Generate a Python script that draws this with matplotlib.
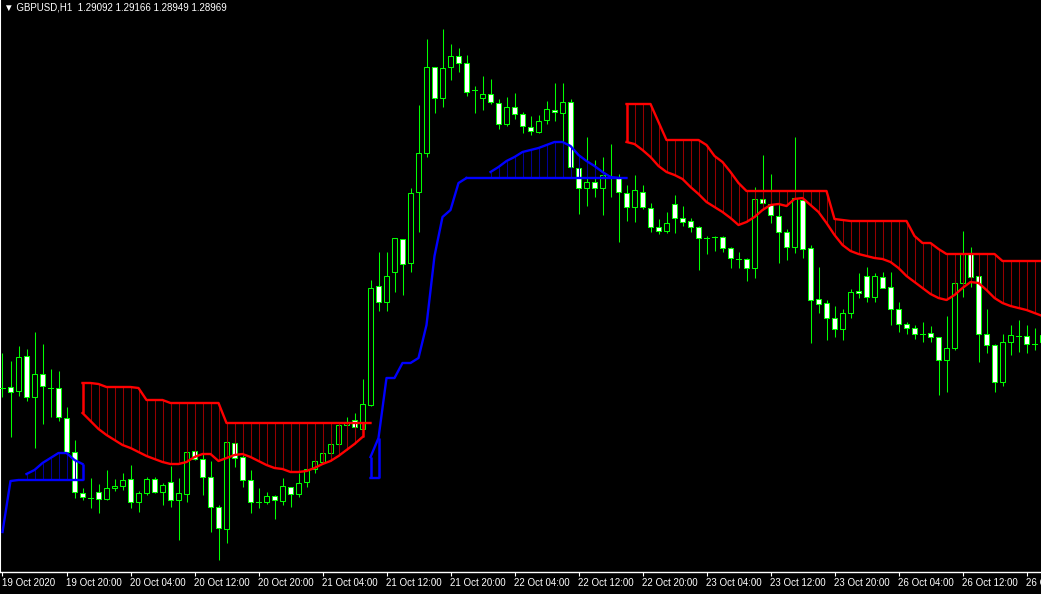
import numpy as np
import matplotlib.pyplot as plt
from matplotlib.patches import Rectangle

plt.rcParams['font.family'] = ['Liberation Sans', 'DejaVu Sans']

title = "\u25bc GBPUSD,H1  1.29092 1.29166 1.28949 1.28969"

# hourly bars, GBPUSD H1, 19 Oct 2020 12:00 onwards
opens = [1.2812, 1.2813, 1.2809, 1.2844, 1.2803, 1.2826, 1.2812, 1.2812, 1.2782, 1.2748,
         1.2707, 1.2702, 1.2708, 1.2701, 1.2712, 1.2714, 1.2721, 1.2698, 1.2707, 1.2721,
         1.2708, 1.2718, 1.2700, 1.2706, 1.2749, 1.2741, 1.2723, 1.2693, 1.2671, 1.2757,
         1.2743, 1.2720, 1.2698, 1.2698, 1.2704, 1.2699, 1.2713, 1.2706, 1.2718, 1.2731,
         1.2738, 1.2747, 1.2756, 1.2775, 1.2780, 1.2771, 1.2795, 1.2914, 1.2898, 1.2928,
         1.2961, 1.2937, 1.3008, 1.3047, 1.3133, 1.3102, 1.3133, 1.3144, 1.3137, 1.3110,
         1.3102, 1.3106, 1.3097, 1.3076, 1.3093, 1.3086, 1.3073, 1.3068, 1.3080, 1.3090,
         1.3087, 1.3098, 1.3032, 1.3012, 1.3018, 1.3012, 1.3023, 1.3023, 1.3007, 1.2993,
         1.3008, 1.2992, 1.2973, 1.2969, 1.2996, 1.2982, 1.2979, 1.2973, 1.2962, 1.2963,
         1.2963, 1.2952, 1.2941, 1.2941, 1.2932, 1.3001, 1.2996, 1.2984, 1.2968, 1.2953,
         1.3000, 1.2952, 1.2901, 1.2897, 1.2882, 1.2871, 1.2887, 1.2909, 1.2924, 1.2903,
         1.2923, 1.2913, 1.2891, 1.2876, 1.2872, 1.2866, 1.2867, 1.2863, 1.2840, 1.2852,
         1.2917, 1.2947, 1.2924, 1.2866, 1.2855, 1.2818, 1.2858, 1.2864, 1.2864, 1.2856,
         1.2858]
highs = [1.2847, 1.2839, 1.2854, 1.2851, 1.2868, 1.2856, 1.2831, 1.2829, 1.2793, 1.2760,
         1.2712, 1.2722, 1.2716, 1.2730, 1.2721, 1.2727, 1.2735, 1.2709, 1.2723, 1.2723,
         1.2717, 1.2734, 1.2722, 1.2765, 1.2778, 1.2764, 1.2739, 1.2695, 1.2765, 1.2768,
         1.2745, 1.2730, 1.2712, 1.2708, 1.2705, 1.2722, 1.2713, 1.2727, 1.2733, 1.2749,
         1.2760, 1.2766, 1.2777, 1.2783, 1.2787, 1.2821, 1.2920, 1.2948, 1.2948, 1.2962,
         1.2961, 1.3012, 1.3095, 1.3161, 1.3133, 1.3171, 1.3156, 1.3152, 1.3145, 1.3114,
         1.3124, 1.3121, 1.3101, 1.3103, 1.3107, 1.3088, 1.3084, 1.3085, 1.3099, 1.3117,
         1.3117, 1.3101, 1.3043, 1.3063, 1.3040, 1.3043, 1.3056, 1.3026, 1.3015, 1.3025,
         1.3015, 1.2997, 1.2981, 1.2988, 1.3005, 1.2994, 1.2982, 1.2974, 1.2964, 1.2964,
         1.2964, 1.2953, 1.2948, 1.2942, 1.3013, 1.3045, 1.3026, 1.3001, 1.2971, 1.3063,
         1.3004, 1.2955, 1.2933, 1.2900, 1.2894, 1.2891, 1.2911, 1.2927, 1.2933, 1.2927,
         1.2928, 1.2928, 1.2898, 1.2878, 1.2875, 1.2878, 1.2874, 1.2863, 1.2884, 1.2927,
         1.2969, 1.2953, 1.2931, 1.2891, 1.2856, 1.2866, 1.2875, 1.2880, 1.2875, 1.2872,
         1.2870]
lows = [1.2803, 1.2763, 1.2804, 1.2799, 1.2752, 1.2776, 1.2783, 1.2779, 1.2747, 1.2702,
        1.2700, 1.2692, 1.2687, 1.2700, 1.2709, 1.2710, 1.2692, 1.2688, 1.2705, 1.2707,
        1.2695, 1.2693, 1.2660, 1.2698, 1.2740, 1.2705, 1.2668, 1.2640, 1.2657, 1.2733,
        1.2713, 1.2687, 1.2692, 1.2696, 1.2681, 1.2695, 1.2693, 1.2703, 1.2713, 1.2727,
        1.2737, 1.2745, 1.2753, 1.2770, 1.2762, 1.2770, 1.2794, 1.2889, 1.2889, 1.2908,
        1.2905, 1.2928, 1.2968, 1.3043, 1.3087, 1.3093, 1.3120, 1.3128, 1.3104, 1.3087,
        1.3090, 1.3096, 1.3071, 1.3074, 1.3081, 1.3067, 1.3065, 1.3067, 1.3076, 1.3079,
        1.3053, 1.3025, 1.2986, 1.2994, 1.3003, 1.2985, 1.3003, 1.2958, 1.2979, 1.2978,
        1.2991, 1.2968, 1.2966, 1.2967, 1.2967, 1.2974, 1.2968, 1.2930, 1.2946, 1.2949,
        1.2948, 1.2932, 1.2932, 1.2919, 1.2922, 1.2995, 1.2977, 1.2937, 1.2940, 1.2947,
        1.2942, 1.2857, 1.2887, 1.2860, 1.2863, 1.2860, 1.2882, 1.2902, 1.2898, 1.2898,
        1.2912, 1.2875, 1.2868, 1.2866, 1.2861, 1.2858, 1.2858, 1.2805, 1.2808, 1.2850,
        1.2903, 1.2913, 1.2838, 1.2847, 1.2808, 1.2814, 1.2845, 1.2848, 1.2847, 1.2850,
        1.2855]
closes = [1.2812, 1.2808, 1.2843, 1.2803, 1.2826, 1.2814, 1.2812, 1.2783, 1.2748, 1.2708,
          1.2703, 1.2702, 1.2701, 1.2712, 1.2714, 1.2720, 1.2698, 1.2707, 1.2721, 1.2708,
          1.2715, 1.2700, 1.2707, 1.2748, 1.2741, 1.2723, 1.2693, 1.2672, 1.2758, 1.2742,
          1.2720, 1.2698, 1.2698, 1.2704, 1.2700, 1.2714, 1.2706, 1.2717, 1.2731, 1.2739,
          1.2747, 1.2756, 1.2775, 1.2778, 1.2773, 1.2796, 1.2912, 1.2898, 1.2924, 1.2962,
          1.2936, 1.3007, 1.3047, 1.3133, 1.3102, 1.3132, 1.3144, 1.3137, 1.3108, 1.3110,
          1.3106, 1.3098, 1.3076, 1.3093, 1.3086, 1.3074, 1.3069, 1.3079, 1.3091, 1.3088,
          1.3098, 1.3033, 1.3012, 1.3018, 1.3012, 1.3025, 1.3023, 1.3008, 1.2993, 1.3010,
          1.2993, 1.2973, 1.2969, 1.2977, 1.2982, 1.2978, 1.2973, 1.2962, 1.2962, 1.2963,
          1.2952, 1.2942, 1.2941, 1.2932, 1.3001, 1.2997, 1.2985, 1.2968, 1.2953, 1.3002,
          1.2951, 1.2900, 1.2896, 1.2882, 1.2871, 1.2887, 1.2908, 1.2907, 1.2903, 1.2924,
          1.2912, 1.2891, 1.2876, 1.2872, 1.2866, 1.2866, 1.2863, 1.2840, 1.2852, 1.2917,
          1.2947, 1.2923, 1.2866, 1.2855, 1.2818, 1.2858, 1.2865, 1.2864, 1.2856, 1.2856,
          1.2865]

# cloud lines: (first bar, values)
blue_upper = [(3, [1.2726, 1.2730, 1.2737, 1.2742, 1.2747, 1.2747, 1.2740, 1.2736]),
              (46, [1.2743, 1.2762, 1.2822, 1.2822, 1.2837, 1.2837, 1.2842, 1.2875, 1.2944,
                    1.2983, 1.2990, 1.3017, 1.3022]),
              (61, [1.3028, 1.3033, 1.3039, 1.3043, 1.3048, 1.3050, 1.3052, 1.3055, 1.3058,
                    1.3058, 1.3054, 1.3045, 1.3039, 1.3034, 1.3028, 1.3023, 1.3022])]
blue_lower = [(0, [1.2668, 1.2719] + [1.2720] * 9),
              (46, [1.2722, 1.2722]),
              (58, [1.3022] * 21)]
red_upper = [(10, [1.2817, 1.2817, 1.2816, 1.2813, 1.2813, 1.2813, 1.2813, 1.2812, 1.2800,
                   1.2800, 1.2800] + [1.2797] * 7 + [1.2777] * 19),
             (78, [1.3096] * 4 + [1.3078] + [1.3060] * 5 + [1.3055, 1.3044, 1.3038, 1.3028,
                   1.3017] + [1.3009] * 11 + [1.2981, 1.2980] + [1.2979] * 8
                  + [1.2964, 1.2957, 1.2957, 1.2951] + [1.2946] * 7 + [1.2939] * 6)]
red_lower = [(10, [1.2787, 1.2779, 1.2771, 1.2765, 1.2760, 1.2755, 1.2752, 1.2748, 1.2744,
                   1.2741, 1.2738, 1.2736, 1.2736, 1.2738, 1.2743, 1.2746, 1.2746, 1.2739,
                   1.2742, 1.2745, 1.2746, 1.2743, 1.2739, 1.2735, 1.2732, 1.2731, 1.2728,
                   1.2728, 1.2729, 1.2732, 1.2736, 1.2739, 1.2744, 1.2750, 1.2756, 1.2763]),
             (78, [1.3058, 1.3056, 1.3050, 1.3043, 1.3034, 1.3028, 1.3025, 1.3021, 1.3013,
                   1.3006, 1.2998, 1.2993, 1.2988, 1.2982, 1.2975, 1.2978, 1.2983, 1.2990,
                   1.2995, 1.2996, 1.2994, 1.3001, 1.3002, 1.2995, 1.2988, 1.2977, 1.2965,
                   1.2955, 1.2949, 1.2946, 1.2944, 1.2942, 1.2941, 1.2938, 1.2932, 1.2924,
                   1.2918, 1.2912, 1.2906, 1.2902, 1.2900, 1.2905, 1.2912, 1.2918, 1.2917,
                   1.2910, 1.2902, 1.2897, 1.2894, 1.2892, 1.2890, 1.2887, 1.2884])]

time_labels = ["19 Oct 2020", "19 Oct 20:00", "20 Oct 04:00", "20 Oct 12:00", "20 Oct 20:00",
               "21 Oct 04:00", "21 Oct 12:00", "21 Oct 20:00", "22 Oct 04:00", "22 Oct 12:00",
               "22 Oct 20:00", "23 Oct 04:00", "23 Oct 12:00", "23 Oct 20:00", "26 Oct 04:00",
               "26 Oct 12:00", "26 Oct 20:00"]

n = len(opens)
x = np.arange(n)


def span(parts):
    arr = np.full(n, np.nan)
    for start, vals in parts:
        arr[start:start + len(vals)] = vals
    return arr


fig = plt.figure(figsize=(10.41, 5.94), dpi=100, facecolor='black')
ax = fig.add_axes([0, 22 / 594, 1, 572 / 594])
ax.set_facecolor('black')

green = '#00ff00'
px = 0.75  # about one pixel, in points
ax.vlines(x, lows, highs, color=green, lw=px, zorder=2, snap=True)
for i in range(n):
    o, c = opens[i], closes[i]
    if o == c:
        ax.plot([i - 0.3, i + 0.3], [o, o], color=green, lw=px, zorder=3, snap=True)
        continue
    face = 'black' if c > o else 'white'
    ax.add_patch(Rectangle((i - 0.3, min(o, c)), 0.6, abs(c - o), facecolor=face,
                           edgecolor=green, lw=px, zorder=3, snap=True))

for up, lo, bright, dark in [(span(blue_upper), span(blue_lower), '#0000ff', '#000096'),
                             (span(red_upper), span(red_lower), '#ff0000', '#960000')]:
    both = ~np.isnan(up) & ~np.isnan(lo)
    idx = np.where(both)[0]
    ax.vlines(idx, lo[idx], up[idx], color=dark, lw=px, zorder=4, snap=True)
    for i in idx:
        edge = i == 0 or i == n - 1 or not both[i - 1] or not both[i + 1]
        if edge and abs(up[i] - lo[i]) > 0.0008:
            ax.vlines(i, lo[i], up[i], color=bright, lw=1.8, zorder=5)
    ax.plot(x, up, color=bright, lw=1.7, zorder=5)
    ax.plot(x, lo, color=bright, lw=1.7, zorder=5)

ax.set_xlim(-2.5 / 8, (1041 - 2.5) / 8)
ax.set_ylim(1.2628, 1.3200)

ax.set_yticks([])
ax.set_xticks(np.arange(0, n, 8)[:len(time_labels)])
ax.set_xticklabels(time_labels)
for lbl in ax.get_xticklabels():
    lbl.set_ha('left')
ax.tick_params(axis='x', colors='white', length=3, width=0.8, direction='out',
               labelsize=7, pad=1.5)
for s in ['top', 'right']:
    ax.spines[s].set_visible(False)
ax.spines['left'].set_color('white')
ax.spines['left'].set_linewidth(1.5)
ax.spines['bottom'].set_color('white')
ax.spines['bottom'].set_linewidth(1)

fig.text(4 / 1041, 1 - 7 / 594, title, color='white', fontsize=7, va='center', ha='left')

fig.savefig('out.png', dpi=100, facecolor='black')
